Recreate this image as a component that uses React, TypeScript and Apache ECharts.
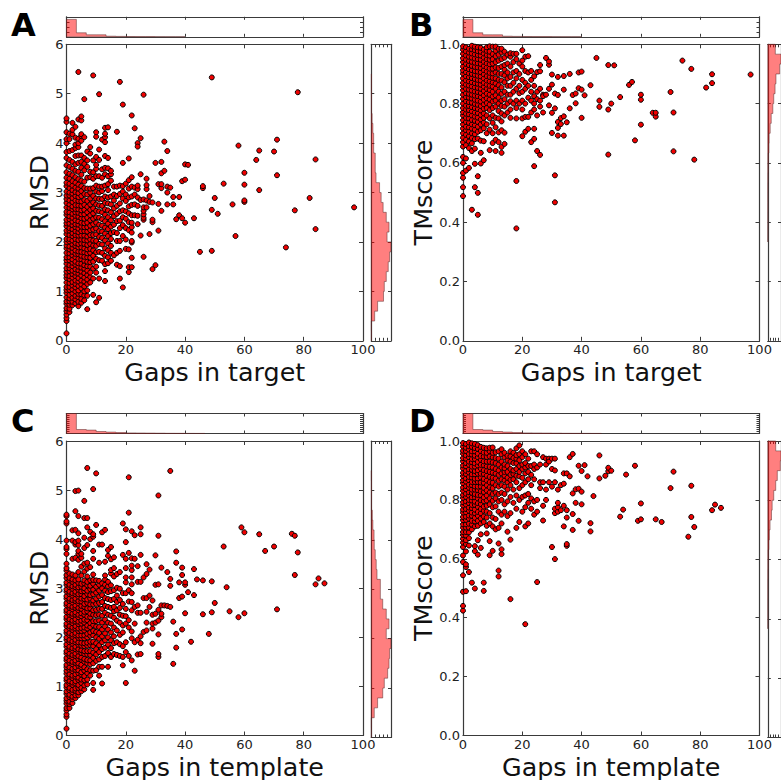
import React, { useEffect, useRef } from "react";
import * as echarts from "echarts";

// Values. Rows: [gap, value, value, ...]
const rmsdByTargetGap: number[][] = [
  [0, 0.15, 0.4, 0.46, 0.53, 0.6, 0.66, 0.75, 0.8, 0.88, 0.97, 1.03, 1.09, 1.18, 1.27, 1.33, 1.4, 1.47, 1.56, 1.63, 1.69, 1.78, 1.87, 1.93, 2.0, 2.06, 2.16, 2.23, 2.32, 2.38, 2.45, 2.55, 2.61, 2.7, 2.79, 2.87, 2.94, 3.02, 3.13, 3.2, 3.3, 3.41, 3.55, 3.7, 3.82, 4.0, 4.08, 4.22, 4.43, 4.5],
  [1, 0.58, 0.65, 0.73, 0.8, 0.86, 0.93, 1.03, 1.09, 1.17, 1.25, 1.31, 1.41, 1.47, 1.53, 1.63, 1.69, 1.77, 1.85, 1.91, 2.01, 2.06, 2.14, 2.23, 2.28, 2.37, 2.46, 2.52, 2.6, 2.69, 2.76, 2.84, 2.94, 3.0, 3.09, 3.18, 3.28, 3.38, 3.52, 3.66, 3.84, 4.08, 4.19],
  [2, 0.72, 0.79, 0.87, 0.96, 1.04, 1.12, 1.19, 1.28, 1.35, 1.42, 1.51, 1.58, 1.65, 1.73, 1.8, 1.88, 1.95, 2.03, 2.12, 2.18, 2.26, 2.34, 2.41, 2.49, 2.57, 2.66, 2.72, 2.81, 2.89, 2.98, 3.05, 3.14, 3.23, 3.35, 3.48, 3.62, 3.86, 4.18, 4.27, 4.41],
  [3, 0.76, 0.84, 0.91, 1.0, 1.08, 1.15, 1.22, 1.31, 1.38, 1.45, 1.54, 1.6, 1.69, 1.76, 1.83, 1.92, 1.98, 2.06, 2.14, 2.22, 2.3, 2.36, 2.44, 2.53, 2.6, 2.67, 2.75, 2.84, 2.93, 3.01, 3.1, 3.2, 3.31, 3.44, 3.57, 3.74, 3.9, 3.97, 4.11, 4.33],
  [4, 0.7, 0.79, 0.88, 0.95, 1.02, 1.11, 1.2, 1.27, 1.36, 1.43, 1.5, 1.57, 1.66, 1.75, 1.81, 1.89, 1.96, 2.04, 2.13, 2.2, 2.27, 2.35, 2.42, 2.51, 2.59, 2.66, 2.74, 2.83, 2.91, 2.99, 3.08, 3.16, 3.27, 3.42, 3.6, 3.75, 3.92, 4.0, 4.09, 4.48, 5.44],
  [5, 0.77, 0.85, 0.94, 1.06, 1.14, 1.22, 1.32, 1.4, 1.48, 1.56, 1.65, 1.72, 1.8, 1.89, 1.97, 2.05, 2.13, 2.22, 2.31, 2.39, 2.48, 2.56, 2.64, 2.73, 2.82, 2.93, 3.03, 3.13, 3.24, 3.36, 3.5, 3.62, 3.75, 4.05, 4.14, 4.18, 4.46, 4.54],
  [6, 0.82, 0.92, 1.0, 1.1, 1.2, 1.28, 1.37, 1.46, 1.53, 1.62, 1.7, 1.79, 1.87, 1.96, 2.04, 2.13, 2.22, 2.3, 2.38, 2.47, 2.56, 2.65, 2.75, 2.85, 2.97, 3.09, 3.22, 3.45, 3.58, 3.7, 4.12, 4.89],
  [7, 0.64, 0.91, 1.02, 1.15, 1.24, 1.33, 1.42, 1.51, 1.6, 1.69, 1.77, 1.85, 1.94, 2.03, 2.11, 2.21, 2.3, 2.39, 2.49, 2.6, 2.71, 2.83, 2.96, 3.08, 3.3, 3.52, 3.65, 3.83],
  [8, 1.18, 1.29, 1.38, 1.5, 1.59, 1.68, 1.78, 1.86, 1.96, 2.05, 2.14, 2.24, 2.33, 2.44, 2.54, 2.65, 2.76, 2.88, 3.0, 3.08, 3.31, 3.42, 3.79, 3.92],
  [9, 0.93, 1.26, 1.46, 1.6, 1.72, 1.83, 1.93, 2.03, 2.14, 2.25, 2.36, 2.47, 2.58, 2.68, 2.8, 2.93, 3.09, 3.28, 3.41, 3.65, 5.37],
  [10, 0.78, 1.38, 1.5, 1.66, 1.79, 1.92, 2.02, 2.15, 2.27, 2.39, 2.5, 2.63, 2.76, 2.88, 3.02, 3.14, 3.33, 3.48, 3.56, 3.72, 4.13, 4.22],
  [11, 0.87, 1.26, 1.63, 1.8, 1.96, 2.1, 2.22, 2.35, 2.49, 2.62, 2.74, 2.87, 3.0, 3.12, 3.33, 3.66, 3.87, 4.99],
  [12, 1.62, 1.78, 1.95, 2.08, 2.21, 2.33, 2.46, 2.6, 2.73, 2.87, 3.03, 3.12, 3.3, 3.47, 4.07],
  [13, 1.21, 1.41, 1.55, 1.72, 1.87, 2.03, 2.17, 2.29, 2.42, 2.55, 2.66, 2.79, 2.92, 3.14, 3.37, 3.5, 3.74, 4.02, 4.12, 4.19, 4.31],
  [14, 1.57, 1.69, 1.83, 1.97, 2.12, 2.26, 2.37, 2.5, 2.64, 2.78, 2.9, 3.05, 3.17, 3.33, 3.49, 3.7, 4.32],
  [15, 1.62, 1.78, 1.92, 2.06, 2.18, 2.31, 2.44, 2.6, 2.76, 2.92, 3.24, 3.37, 3.44],
  [16, 1.73, 2.2, 2.35, 2.52, 2.68, 2.84, 2.96, 3.12],
  [17, 1.54, 1.78, 2.02, 2.18, 2.42, 2.57, 2.73, 2.93, 3.12, 4.23],
  [18, 1.26, 1.51, 1.82, 2.02, 2.28, 2.43, 2.62, 2.78, 2.97, 3.14, 5.24],
  [19, 1.08, 2.12, 2.34, 2.5, 2.64, 2.88, 3.02, 3.13, 3.6, 4.78],
  [20, 1.86, 2.05, 2.28, 2.47, 2.62, 2.83, 2.96, 3.18],
  [21, 1.39, 1.49, 1.85, 2.24, 2.4, 2.58, 2.72, 2.9, 3.08, 3.25, 3.69],
  [22, 1.49, 1.68, 1.99, 2.02, 2.19, 2.3, 2.39, 2.54, 2.75, 2.92, 3.12, 3.31, 4.56],
  [23, 2.54, 2.76, 2.96, 3.1, 4.3],
  [24, 2.36, 2.53, 2.73, 2.9, 3.07, 3.14, 4.0, 3.93],
  [25, 2.13, 2.85, 3.37, 4.1],
  [26, 1.7, 2.45, 2.49, 2.56, 2.63, 2.7, 2.86, 4.98],
  [27, 2.7, 2.84, 3.07, 3.15, 3.28],
  [28, 2.16, 2.81, 2.93],
  [29, 1.45, 2.4, 2.45, 2.8],
  [30, 1.53, 3.6],
  [31, 2.23, 2.77, 3.17],
  [32, 2.63, 3.09, 3.17, 3.39, 3.62],
  [33, 3.44, 4.03],
  [34, 2.76, 3.0, 3.12, 3.84],
  [35, 3.1],
  [36, 2.76, 2.91],
  [37, 2.46],
  [38, 2.54, 2.91],
  [39, 2.48, 3.23],
  [40, 2.39, 3.26, 3.57],
  [41, 3.56],
  [43, 2.48],
  [45, 1.8],
  [46, 3.09, 3.13],
  [49, 1.82, 2.65, 5.33],
  [50, 2.89],
  [51, 2.57],
  [53, 3.18],
  [56, 2.76],
  [57, 2.12],
  [58, 3.95],
  [60, 2.81, 2.84, 3.16, 3.4],
  [64, 3.66],
  [65, 3.05, 3.85],
  [70, 3.83],
  [71, 3.35, 4.07],
  [74, 1.89],
  [77, 2.64],
  [78, 5.03],
  [82, 2.89],
  [84, 2.26, 3.67],
  [97, 2.7],
];

const tmscoreByTargetGap: number[][] = [
  [0, 0.488, 0.518, 0.55, 0.566, 0.6, 0.62, 0.655, 0.67, 0.685, 0.7, 0.716, 0.73, 0.744, 0.76, 0.771, 0.785, 0.8, 0.816, 0.83, 0.845, 0.858, 0.87, 0.885, 0.901, 0.912, 0.925, 0.94, 0.953, 0.968, 0.982, 0.993],
  [1, 0.574, 0.615, 0.66, 0.678, 0.695, 0.71, 0.722, 0.738, 0.752, 0.766, 0.78, 0.793, 0.808, 0.822, 0.835, 0.85, 0.864, 0.878, 0.892, 0.906, 0.92, 0.934, 0.948, 0.962, 0.976, 0.99],
  [2, 0.583, 0.65, 0.672, 0.69, 0.705, 0.72, 0.735, 0.75, 0.764, 0.778, 0.792, 0.805, 0.82, 0.833, 0.847, 0.861, 0.875, 0.889, 0.902, 0.916, 0.93, 0.944, 0.958, 0.972, 0.985],
  [3, 0.442, 0.64, 0.666, 0.684, 0.7, 0.716, 0.73, 0.745, 0.76, 0.774, 0.788, 0.803, 0.817, 0.83, 0.844, 0.858, 0.872, 0.886, 0.9, 0.913, 0.927, 0.941, 0.955, 0.969, 0.983, 0.995],
  [4, 0.518, 0.597, 0.648, 0.68, 0.697, 0.712, 0.727, 0.742, 0.756, 0.77, 0.785, 0.799, 0.813, 0.827, 0.841, 0.855, 0.869, 0.883, 0.897, 0.91, 0.924, 0.938, 0.952, 0.966, 0.98, 0.992],
  [5, 0.425, 0.499, 0.555, 0.682, 0.705, 0.722, 0.738, 0.753, 0.768, 0.782, 0.796, 0.81, 0.825, 0.839, 0.853, 0.867, 0.88, 0.894, 0.908, 0.922, 0.936, 0.95, 0.964, 0.977, 0.99],
  [6, 0.598, 0.634, 0.675, 0.71, 0.73, 0.747, 0.762, 0.777, 0.792, 0.807, 0.822, 0.836, 0.85, 0.864, 0.878, 0.892, 0.906, 0.92, 0.934, 0.948, 0.962, 0.975, 0.988],
  [7, 0.609, 0.673, 0.717, 0.736, 0.752, 0.767, 0.783, 0.798, 0.813, 0.828, 0.843, 0.857, 0.87, 0.885, 0.899, 0.913, 0.927, 0.941, 0.955, 0.969, 0.982],
  [8, 0.7, 0.73, 0.76, 0.785, 0.802, 0.818, 0.834, 0.85, 0.864, 0.878, 0.893, 0.908, 0.922, 0.936, 0.95, 0.964, 0.978, 0.99],
  [9, 0.643, 0.712, 0.75, 0.778, 0.797, 0.814, 0.83, 0.846, 0.86, 0.875, 0.89, 0.904, 0.918, 0.933, 0.948, 0.962, 0.975, 0.993],
  [10, 0.667, 0.7, 0.735, 0.76, 0.785, 0.807, 0.824, 0.84, 0.857, 0.872, 0.887, 0.902, 0.918, 0.935, 0.95, 0.967, 0.992],
  [11, 0.64, 0.678, 0.72, 0.752, 0.79, 0.81, 0.828, 0.85, 0.868, 0.885, 0.905, 0.922, 0.94, 0.96, 0.978, 0.992],
  [12, 0.67, 0.703, 0.75, 0.775, 0.8, 0.82, 0.84, 0.862, 0.88, 0.9, 0.92, 0.945, 0.965, 0.985],
  [13, 0.634, 0.654, 0.71, 0.74, 0.767, 0.792, 0.81, 0.833, 0.855, 0.878, 0.9, 0.925, 0.95, 0.972, 0.985],
  [14, 0.664, 0.702, 0.76, 0.79, 0.815, 0.84, 0.872, 0.895, 0.915, 0.93, 0.955, 0.975],
  [15, 0.77, 0.8, 0.83, 0.86, 0.885, 0.905, 0.935, 0.965],
  [16, 0.752, 0.78, 0.808, 0.83, 0.86, 0.89, 0.925, 0.958, 0.97],
  [17, 0.8, 0.84, 0.87, 0.905, 0.94, 0.968],
  [18, 0.379, 0.539, 0.75, 0.785, 0.81, 0.85, 0.885, 0.91, 0.95, 0.968],
  [19, 0.8, 0.835, 0.86, 0.9, 0.935],
  [20, 0.69, 0.75, 0.78, 0.81, 0.84, 0.88, 0.925, 0.945, 0.98],
  [21, 0.705, 0.755, 0.8, 0.85, 0.87, 0.91, 0.958],
  [22, 0.715, 0.755, 0.82, 0.86, 0.905, 0.96],
  [23, 0.67, 0.77, 0.81, 0.84, 0.88, 0.91],
  [24, 0.589, 0.681, 0.715, 0.78, 0.8, 0.825, 0.86, 0.892],
  [25, 0.64, 0.76, 0.815, 0.84, 0.906],
  [26, 0.627, 0.79, 0.81, 0.85, 0.909, 0.93],
  [27, 0.77, 0.83, 0.825],
  [28, 0.83, 0.954],
  [29, 0.794, 0.85, 0.931, 0.942],
  [30, 0.701, 0.769, 0.864, 0.898],
  [31, 0.467, 0.558, 0.784, 0.834],
  [32, 0.692, 0.718, 0.738, 0.829, 0.89],
  [33, 0.731, 0.751],
  [34, 0.692, 0.757, 0.847, 0.893],
  [35, 0.737],
  [36, 0.784, 0.9],
  [37, 0.829],
  [38, 0.801, 0.834],
  [39, 0.852, 0.905],
  [40, 0.752, 0.847, 0.908],
  [41, 0.828],
  [43, 0.862],
  [45, 0.954],
  [46, 0.789, 0.81],
  [49, 0.628, 0.78, 0.93],
  [50, 0.8],
  [51, 0.929],
  [53, 0.822],
  [56, 0.863],
  [57, 0.873],
  [58, 0.676],
  [60, 0.729, 0.813, 0.83],
  [64, 0.769],
  [65, 0.756, 0.769],
  [70, 0.839],
  [71, 0.639, 0.77],
  [74, 0.945],
  [77, 0.917],
  [78, 0.611],
  [82, 0.854],
  [84, 0.869, 0.899],
  [97, 0.898],
];

const rmsdByTemplateGap: number[][] = [
  [0, 0.14, 0.38, 0.43, 0.51, 0.56, 0.65, 0.71, 0.76, 0.85, 0.9, 0.98, 1.03, 1.12, 1.17, 1.26, 1.32, 1.39, 1.44, 1.53, 1.58, 1.67, 1.72, 1.81, 1.86, 1.95, 2.0, 2.09, 2.14, 2.23, 2.28, 2.37, 2.42, 2.51, 2.56, 2.65, 2.7, 2.79, 2.84, 2.93, 2.98, 3.07, 3.12, 3.21, 3.27, 3.36, 3.41, 3.5, 3.7, 3.8, 3.84, 3.97, 4.32, 4.36, 4.47, 4.5],
  [1, 0.56, 0.64, 0.69, 0.78, 0.83, 0.92, 0.97, 1.06, 1.11, 1.2, 1.25, 1.34, 1.39, 1.48, 1.53, 1.62, 1.67, 1.76, 1.81, 1.9, 1.95, 2.04, 2.09, 2.18, 2.23, 2.32, 2.37, 2.46, 2.51, 2.6, 2.65, 2.74, 2.79, 2.88, 2.93, 3.02, 3.07, 3.16, 3.21, 3.3],
  [2, 0.66, 0.74, 0.79, 0.88, 0.93, 1.03, 1.08, 1.17, 1.22, 1.31, 1.36, 1.45, 1.5, 1.59, 1.64, 1.73, 1.78, 1.87, 1.92, 2.01, 2.06, 2.15, 2.2, 2.29, 2.34, 2.43, 2.48, 2.57, 2.62, 2.71, 2.76, 2.85, 2.9, 2.99, 3.04, 3.13, 3.18, 3.28, 3.6, 3.97, 4.18],
  [3, 0.76, 0.82, 0.91, 0.96, 1.06, 1.11, 1.2, 1.25, 1.34, 1.39, 1.48, 1.53, 1.62, 1.67, 1.76, 1.81, 1.9, 1.95, 2.04, 2.09, 2.18, 2.23, 2.32, 2.37, 2.46, 2.51, 2.6, 2.65, 2.74, 2.79, 2.88, 2.93, 3.02, 3.07, 3.16, 3.26, 3.62, 3.89, 3.94, 4.19, 4.57, 4.98],
  [4, 0.82, 0.88, 0.97, 1.03, 1.13, 1.18, 1.27, 1.33, 1.42, 1.47, 1.56, 1.62, 1.71, 1.76, 1.85, 1.9, 1.99, 2.04, 2.13, 2.18, 2.27, 2.32, 2.41, 2.46, 2.55, 2.6, 2.69, 2.74, 2.83, 2.88, 2.97, 3.02, 3.11, 3.18, 3.33, 3.58, 3.7, 3.76, 3.88, 3.97, 4.12, 4.47, 4.99],
  [5, 0.9, 0.97, 1.07, 1.14, 1.24, 1.29, 1.39, 1.44, 1.54, 1.59, 1.68, 1.74, 1.83, 1.89, 1.98, 2.04, 2.13, 2.19, 2.28, 2.34, 2.43, 2.49, 2.58, 2.64, 2.73, 2.79, 2.88, 2.94, 3.03, 3.09, 3.26, 3.44, 3.62, 3.7],
  [6, 0.94, 1.02, 1.13, 1.21, 1.32, 1.39, 1.5, 1.56, 1.66, 1.72, 1.82, 1.88, 1.98, 2.04, 2.14, 2.2, 2.3, 2.36, 2.46, 2.52, 2.62, 2.68, 2.78, 2.84, 2.94, 3.0, 3.1, 3.16, 3.34, 3.5, 3.82, 4.03, 4.43, 4.78],
  [7, 1.04, 1.14, 1.27, 1.35, 1.47, 1.54, 1.65, 1.72, 1.83, 1.89, 2.0, 2.07, 2.18, 2.24, 2.35, 2.42, 2.53, 2.59, 2.7, 2.77, 2.88, 2.95, 3.06, 3.13, 3.24, 3.4, 3.52, 3.88, 4.24, 4.43, 5.45],
  [8, 1.22, 1.33, 1.45, 1.53, 1.64, 1.72, 1.84, 1.91, 2.03, 2.1, 2.21, 2.29, 2.41, 2.48, 2.59, 2.67, 2.79, 2.86, 2.98, 3.05, 3.16, 3.43, 4.0, 4.15],
  [9, 0.93, 1.07, 1.32, 1.47, 1.58, 1.69, 1.82, 1.91, 2.04, 2.13, 2.25, 2.33, 2.46, 2.55, 2.67, 2.75, 2.88, 2.97, 3.09, 3.17, 3.28, 3.6, 3.76, 4.05, 4.1, 5.02],
  [10, 1.33, 1.52, 1.65, 1.76, 1.88, 2.0, 2.11, 2.22, 2.33, 2.45, 2.56, 2.68, 2.79, 2.91, 3.03, 3.16, 4.29, 5.34],
  [11, 1.22, 1.4, 1.55, 1.7, 1.84, 1.97, 2.09, 2.21, 2.34, 2.46, 2.58, 2.7, 2.83, 2.95, 3.07, 3.15, 3.52, 3.89],
  [12, 1.06, 1.4, 1.6, 1.76, 1.9, 2.02, 2.16, 2.3, 2.44, 2.58, 2.72, 2.86, 3.0, 3.1, 3.89, 4.14],
  [13, 1.62, 1.79, 1.94, 2.08, 2.22, 2.36, 2.5, 2.64, 2.8, 2.95, 3.07, 3.18, 3.26, 3.54, 4.19],
  [14, 1.4, 1.68, 1.85, 2.0, 2.16, 2.3, 2.46, 2.62, 2.78, 2.92, 3.04, 3.13, 3.66, 3.78],
  [15, 1.6, 1.78, 1.94, 2.1, 2.28, 2.44, 2.6, 2.76, 2.94, 3.06, 3.3, 3.37, 3.59, 3.84],
  [16, 1.66, 1.88, 2.02, 2.2, 2.4, 2.53, 2.62, 2.78, 2.96, 3.24, 3.41, 3.63],
  [17, 1.64, 1.9, 2.14, 2.34, 2.55, 2.72, 2.85, 3.01, 3.29],
  [18, 1.62, 1.86, 2.05, 2.3, 2.46, 2.6, 2.76, 2.99, 3.33],
  [19, 1.43, 1.6, 1.82, 2.1, 2.24, 2.44, 2.68, 2.9, 3.68, 4.32],
  [20, 1.07, 1.7, 1.9, 2.28, 2.43, 2.58, 2.9, 3.12, 3.22, 3.41, 3.6, 3.94, 4.2],
  [21, 1.62, 2.2, 2.35, 2.73, 2.96, 3.72, 4.54, 5.26],
  [22, 1.53, 1.98, 2.12, 2.55, 2.72, 2.9, 3.08, 3.22, 3.37, 3.46, 3.61, 4.16],
  [23, 1.32, 1.9, 2.28, 2.62, 3.6, 4.08],
  [24, 1.65, 1.95, 2.5, 2.65, 3.13, 3.45],
  [25, 1.66, 1.88, 2.02, 2.5, 3.13, 3.68, 4.1, 4.24],
  [26, 2.11, 3.22, 2.8],
  [27, 2.14, 2.3, 2.52, 2.8, 3.29, 3.49],
  [28, 2.62, 2.85, 3.38],
  [29, 1.87, 2.18, 2.28, 2.46, 2.75],
  [30, 2.3, 2.48, 3.07, 3.67],
  [31, 1.6, 1.66, 2.06, 2.34, 2.56, 3.08, 4.07, 4.89],
  [32, 2.41, 2.48, 2.65, 3.42],
  [33, 2.65],
  [34, 2.64, 3.33],
  [35, 2.62, 3.05, 3.19, 5.39],
  [36, 1.46, 2.32],
  [37, 1.79, 2.07, 3.52, 3.75],
  [38, 2.8, 3.12],
  [39, 2.16, 2.83, 3.27, 3.42],
  [40, 2.49, 3.07, 3.12],
  [41, 2.92],
  [42, 1.91],
  [43, 2.86, 3.39],
  [44, 3.18],
  [46, 2.47, 3.16],
  [48, 2.07],
  [49, 2.51, 3.14],
  [50, 2.7],
  [53, 3.85],
  [54, 3.02],
  [55, 2.53],
  [58, 2.41],
  [59, 4.24],
  [60, 2.49, 4.14],
  [65, 4.1],
  [67, 3.76],
  [70, 3.85],
  [71, 2.57],
  [76, 4.11],
  [77, 3.27, 4.07],
  [78, 3.73],
  [84, 3.08],
  [85, 3.2],
  [87, 3.1],
];

const tmscoreByTemplateGap: number[][] = [
  [0, 0.424, 0.44, 0.488, 0.544, 0.589, 0.611, 0.64, 0.655, 0.668, 0.681, 0.691, 0.706, 0.717, 0.731, 0.742, 0.757, 0.767, 0.781, 0.792, 0.807, 0.817, 0.831, 0.842, 0.857, 0.867, 0.881, 0.892, 0.907, 0.917, 0.931, 0.942, 0.957, 0.967, 0.981, 0.993],
  [1, 0.49, 0.572, 0.581, 0.625, 0.65, 0.663, 0.679, 0.691, 0.706, 0.717, 0.732, 0.743, 0.758, 0.769, 0.784, 0.795, 0.81, 0.821, 0.836, 0.847, 0.862, 0.873, 0.888, 0.899, 0.914, 0.925, 0.94, 0.951, 0.966, 0.977, 0.99],
  [2, 0.555, 0.645, 0.67, 0.69, 0.706, 0.719, 0.736, 0.747, 0.763, 0.774, 0.789, 0.8, 0.815, 0.826, 0.841, 0.852, 0.867, 0.878, 0.893, 0.904, 0.919, 0.93, 0.945, 0.956, 0.971, 0.982, 0.995],
  [3, 0.519, 0.7, 0.716, 0.729, 0.746, 0.757, 0.772, 0.783, 0.798, 0.809, 0.824, 0.835, 0.85, 0.861, 0.876, 0.887, 0.902, 0.913, 0.928, 0.939, 0.954, 0.965, 0.98, 0.992],
  [4, 0.499, 0.626, 0.643, 0.71, 0.727, 0.739, 0.755, 0.767, 0.783, 0.794, 0.809, 0.82, 0.835, 0.846, 0.861, 0.872, 0.887, 0.898, 0.913, 0.924, 0.939, 0.95, 0.965, 0.976, 0.99],
  [5, 0.614, 0.663, 0.712, 0.729, 0.746, 0.759, 0.776, 0.789, 0.805, 0.817, 0.833, 0.845, 0.861, 0.873, 0.889, 0.901, 0.917, 0.929, 0.945, 0.957, 0.973, 0.986],
  [6, 0.637, 0.683, 0.72, 0.737, 0.755, 0.769, 0.786, 0.799, 0.816, 0.829, 0.846, 0.859, 0.876, 0.889, 0.906, 0.919, 0.936, 0.949, 0.966, 0.98],
  [7, 0.491, 0.519, 0.725, 0.744, 0.763, 0.777, 0.796, 0.809, 0.827, 0.841, 0.858, 0.871, 0.888, 0.901, 0.918, 0.931, 0.948, 0.961, 0.977],
  [8, 0.686, 0.712, 0.74, 0.76, 0.78, 0.798, 0.815, 0.832, 0.85, 0.866, 0.882, 0.898, 0.914, 0.93, 0.946, 0.96, 0.975],
  [9, 0.612, 0.66, 0.72, 0.755, 0.785, 0.805, 0.825, 0.843, 0.86, 0.878, 0.895, 0.912, 0.93, 0.948, 0.965, 0.977],
  [10, 0.627, 0.71, 0.74, 0.775, 0.797, 0.82, 0.84, 0.858, 0.875, 0.893, 0.91, 0.928, 0.945, 0.96, 0.978],
  [11, 0.7, 0.735, 0.778, 0.805, 0.825, 0.85, 0.872, 0.89, 0.905, 0.925, 0.942, 0.962],
  [12, 0.54, 0.56, 0.652, 0.705, 0.76, 0.795, 0.82, 0.845, 0.865, 0.885, 0.9, 0.92, 0.94, 0.965],
  [13, 0.616, 0.632, 0.72, 0.75, 0.8, 0.825, 0.85, 0.87, 0.89, 0.91, 0.93, 0.955, 0.972],
  [14, 0.76, 0.785, 0.82, 0.845, 0.866, 0.882, 0.895, 0.908, 0.92, 0.945, 0.96],
  [15, 0.692, 0.745, 0.795, 0.835, 0.86, 0.875, 0.895, 0.915, 0.935, 0.95],
  [16, 0.463, 0.665, 0.755, 0.81, 0.85, 0.868, 0.885, 0.905, 0.93, 0.948, 0.965],
  [17, 0.79, 0.835, 0.87, 0.888, 0.9, 0.925, 0.942, 0.96],
  [18, 0.705, 0.77, 0.815, 0.86, 0.882, 0.905, 0.925, 0.94, 0.952, 0.975],
  [19, 0.725, 0.8, 0.84, 0.88, 0.895, 0.915, 0.935, 0.955, 0.985],
  [20, 0.76, 0.81, 0.85, 0.875, 0.905, 0.92, 0.945, 0.965],
  [21, 0.378, 0.71, 0.775, 0.815, 0.86, 0.89, 0.91, 0.925, 0.955],
  [22, 0.72, 0.79, 0.82, 0.87, 0.895, 0.915, 0.94],
  [23, 0.77, 0.805, 0.85, 0.885, 0.915, 0.965],
  [24, 0.75, 0.795, 0.87, 0.905, 0.92, 0.965],
  [25, 0.521, 0.8, 0.76, 0.91, 0.955],
  [26, 0.84, 0.86, 0.92],
  [27, 0.73, 0.78, 0.86, 0.945],
  [28, 0.8, 0.835, 0.92, 0.94],
  [29, 0.86, 0.94, 0.93],
  [30, 0.64, 0.845, 0.905, 0.94],
  [31, 0.599, 0.755, 0.77, 0.86, 0.9, 0.94],
  [32, 0.76, 0.775, 0.79, 0.835],
  [33, 0.765, 0.85],
  [34, 0.71, 0.78, 0.855, 0.89],
  [35, 0.644, 0.65, 0.74, 0.765, 0.89],
  [36, 0.88, 0.945],
  [37, 0.698, 0.752, 0.822, 0.956],
  [38, 0.79, 0.836],
  [39, 0.729, 0.838, 0.916],
  [40, 0.785, 0.828, 0.898],
  [41, 0.918],
  [42, 0.88],
  [43, 0.693, 0.721],
  [44, 0.813],
  [46, 0.873, 0.951],
  [48, 0.882],
  [49, 0.897, 0.909],
  [50, 0.899],
  [53, 0.743],
  [54, 0.767],
  [55, 0.886],
  [58, 0.916],
  [59, 0.729],
  [60, 0.734, 0.788],
  [65, 0.734],
  [67, 0.725],
  [70, 0.84],
  [71, 0.896],
  [76, 0.675],
  [77, 0.742, 0.848],
  [78, 0.708],
  [84, 0.765],
  [85, 0.784],
  [87, 0.773],
];

// Histogram heights in percent of the panel's range, one per bin, low to high.
const topHistTarget = [87, 20, 10, 10, 3, 2, 1.5, 1, 1, 0.8, 0.6, 0.5, 0, 0, 0, 0, 0, 0, 0, 0, 0, 0, 0, 0, 0, 0, 0, 0, 0, 0];
const topHistTemplate = [100, 20, 17, 10, 7, 5, 3, 2.5, 2, 1.5, 1, 0.8, 0.6, 0.4, 0, 0, 0, 0, 0, 0, 0, 0, 0, 0, 0, 0, 0, 0, 0, 0];
const rightHistA = [0.5, 0.3, 17, 32, 62, 66, 76, 86, 93, 100, 80, 90, 76, 60, 50, 42, 24, 20, 20, 12, 12, 8, 4, 1, 1, 1, 1, 0, 0, 0];
const rightHistB = [0, 0, 0, 0, 0, 0, 0, 0, 0, 0, 0.3, 0.5, 0.5, 1, 1, 1.5, 2, 3, 4, 8, 10, 18, 26, 38, 45, 55, 62, 90, 100, 57];
const rightHistC = [0.5, 0.3, 15, 32, 58, 66, 83, 90, 93, 100, 76, 90, 76, 58, 46, 46, 29, 25, 20, 15, 14, 8, 5, 1, 1, 1, 0.5, 0, 0, 0];
const rightHistD = [0, 0, 0, 0, 0, 0, 0, 0, 0, 0, 0, 0.3, 0.5, 0.5, 1, 1, 2, 3, 4, 8, 12, 17, 28, 33, 45, 60, 72, 95, 100, 60];

const rmsdTicks = [0, 6, 1];
const tmTicks = [0, 1, 0.2];
const gapLabelTarget = "Gaps in target";
const gapLabelTemplate = "Gaps in template";

const flatten = (rows: number[][]) => rows.flatMap(([g, ...ys]) => ys.map((y) => [g, y]));

const INK = "#3a3a3a";
const FONT = "DejaVu Sans";

function buildOption() {
  const grid: any[] = [];
  const xAxis: any[] = [];
  const yAxis: any[] = [];
  const series: any[] = [];

  const addGrid = (
    rect: number[],
    xr: number[],
    yr: number[],
    opts: { labelX?: boolean; labelY?: boolean; nameX?: string; nameY?: string; nameGapY?: number; fmt?: (v: number) => string; tick?: number } = {}
  ) => {
    const g = grid.length;
    grid.push({ left: rect[0], top: rect[1], width: rect[2], height: rect[3], show: false });
    const tick = opts.tick ?? 4;
    const line = { show: true, onZero: false, lineStyle: { color: INK, width: 1.2 } };
    const ticks = { show: true, inside: true, length: tick, lineStyle: { color: INK, width: 1 } };
    const xBase = { type: "value", gridIndex: g, min: xr[0], max: xr[1], interval: xr[2], splitLine: { show: false }, axisLine: line, axisTick: ticks };
    const yBase = { type: "value", gridIndex: g, min: yr[0], max: yr[1], interval: yr[2], splitLine: { show: false }, axisLine: line, axisTick: ticks };
    const labelStyle = { fontFamily: FONT, fontSize: 13, color: "#222", margin: 3, lineHeight: 12 };
    const xi = xAxis.length;
    const yi = yAxis.length;
    xAxis.push({
      ...xBase,
      position: "bottom",
      axisLabel: opts.labelX ? { ...labelStyle, margin: 2.5, hideOverlap: false, showMinLabel: true, showMaxLabel: true } : { show: false },
      name: opts.nameX,
      nameLocation: "middle",
      nameGap: 18.5,
      nameTextStyle: { fontFamily: FONT, fontSize: 25.4, color: "#111" },
    });
    xAxis.push({ ...xBase, position: "top", axisLabel: { show: false } });
    yAxis.push({
      ...yBase,
      position: "left",
      axisLabel: opts.labelY ? { ...labelStyle, formatter: opts.fmt, showMinLabel: true, showMaxLabel: true } : { show: false },
      name: opts.nameY,
      nameLocation: "middle",
      nameGap: opts.nameGapY,
      nameTextStyle: { fontFamily: FONT, fontSize: 25.4, color: "#111" },
    });
    yAxis.push({ ...yBase, position: "right", axisLabel: { show: false } });
    return { xi, yi };
  };

  const histFill = "rgba(255,0,0,0.5)";
  const histStroke = "rgba(90,40,40,0.5)";

  const addHist = (ax: { xi: number; yi: number }, vals: number[], lo: number, hi: number, horizontal: boolean) => {
    const w = (hi - lo) / vals.length;
    const edges = vals.map((v, i) => [lo + i * w, lo + (i + 1) * w, v]).filter((e) => e[2] > 0);
    series.push({
      type: "custom",
      xAxisIndex: ax.xi,
      yAxisIndex: ax.yi,
      coordinateSystem: "cartesian2d",
      silent: true,
      data: edges,
      encode: horizontal ? { x: 2, y: [0, 1] } : { x: [0, 1], y: 2 },
      renderItem: (params: any, api: any) => {
        if (params.dataIndex !== 0) return null;
        const p = (a: number, v: number) => api.coord(horizontal ? [v, a] : [a, v]);
        const pts: number[][] = [p(edges[0][0], 0)];
        edges.forEach(([a, b, v]) => {
          pts.push(p(a, v), p(b, v));
        });
        pts.push(p(edges[edges.length - 1][1], 0));
        return { type: "polygon", shape: { points: pts }, style: { fill: histFill, stroke: histStroke, lineWidth: 1 } };
      },
    });
  };

  const panel = (cfg: {
    x: number;
    y: number;
    rows: number[][];
    ticks: number[];
    nameX: string;
    nameY: string;
    nameGapY: number;
    fmt?: (v: number) => string;
    top: number[];
    right: number[];
    topInterval: number;
  }) => {
    const M = 296.5;
    const main = addGrid([cfg.x, cfg.y + 27.5, M, M], [0, 100, 20], cfg.ticks, {
      labelX: true,
      labelY: true,
      nameX: cfg.nameX,
      nameY: cfg.nameY,
      nameGapY: cfg.nameGapY,
      fmt: cfg.fmt,
    });
    series.push({
      type: "scatter",
      xAxisIndex: main.xi,
      yAxisIndex: main.yi,
      data: flatten(cfg.rows),
      symbol: "circle",
      symbolSize: 5,
      clip: true,
      silent: true,
      itemStyle: { color: "#f00000", borderColor: "#000", borderWidth: 1, opacity: 1 },
    });
    const top = addGrid([cfg.x, cfg.y, M, 20], [0, 100, 20], [0, 100, cfg.topInterval], { tick: 3 });
    addHist(top, cfg.top, 0, 100, false);
    const right = addGrid([cfg.x + M + 8.3, cfg.y + 27.5, 19.7, M], [0, 100, 20], cfg.ticks, { tick: 3 });
    addHist(right, cfg.right, cfg.ticks[0], cfg.ticks[1], true);
  };

  const one = (v: number) => v.toFixed(1);
  const rt = rmsdTicks;
  const tm = tmTicks;
  panel({ x: 66.5, y: 16.8, rows: rmsdByTargetGap, ticks: rt, nameX: gapLabelTarget, nameY: "RMSD", nameGapY: 14, top: topHistTarget, right: rightHistA, topInterval: 25 });
  panel({ x: 463, y: 16.8, rows: tmscoreByTargetGap, ticks: tm, nameX: gapLabelTarget, nameY: "TMscore", nameGapY: 27, fmt: one, top: topHistTarget, right: rightHistB, topInterval: 25 });
  panel({ x: 66.5, y: 413.5, rows: rmsdByTemplateGap, ticks: rt, nameX: gapLabelTemplate, nameY: "RMSD", nameGapY: 14, top: topHistTemplate, right: rightHistC, topInterval: 10 });
  panel({ x: 463, y: 413.5, rows: tmscoreByTemplateGap, ticks: tm, nameX: gapLabelTemplate, nameY: "TMscore", nameGapY: 27, fmt: one, top: topHistTemplate, right: rightHistD, topInterval: 10 });

  const letter = (t: string, x: number, y: number) => ({
    type: "text",
    x,
    y,
    style: { text: t, fontFamily: FONT, fontWeight: "bold", fontSize: 32, fill: "#000", textVerticalAlign: "top" },
  });

  return {
    animation: false,
    backgroundColor: "#fff",
    grid,
    xAxis,
    yAxis,
    series,
    graphic: [letter("A", 11, 9), letter("B", 409, 9), letter("C", 11, 405), letter("D", 409, 405)],
  };
}

export default function App() {
  const ref = useRef<HTMLDivElement>(null);
  useEffect(() => {
    document.body.style.margin = "0";
    const chart = echarts.init(ref.current!, undefined, { renderer: "svg" });
    chart.setOption(buildOption());
    return () => chart.dispose();
  }, []);
  return <div ref={ref} style={{ width: 781, height: 780 }} />;
}
